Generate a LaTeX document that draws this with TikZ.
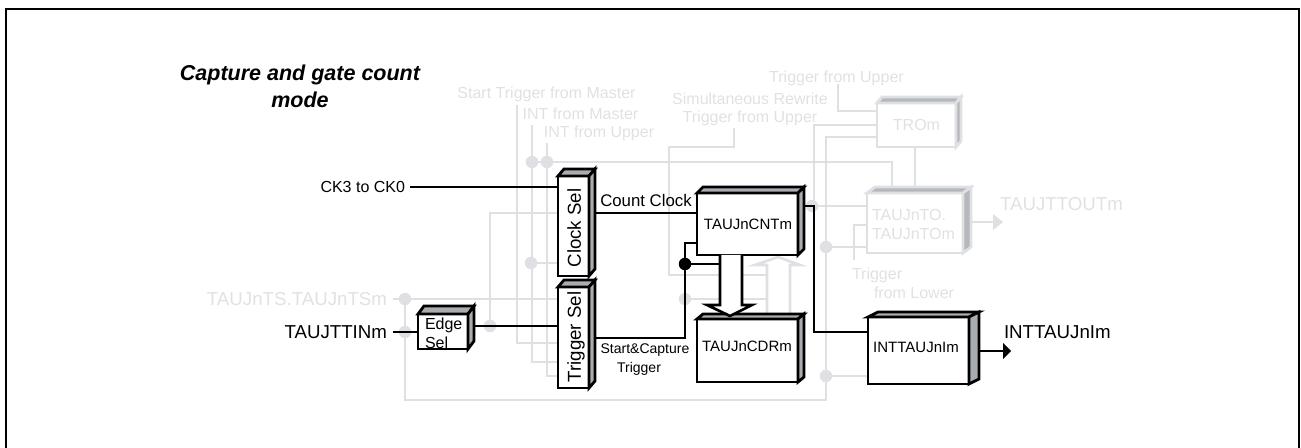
\documentclass[tikz,border=0pt]{standalone}
\usepackage{fontspec}
\setmainfont{Liberation Sans}
\usetikzlibrary{calc}
\definecolor{faint}{HTML}{DFE0E4}
\definecolor{fainttext}{HTML}{E0E1E5}
\definecolor{faceblack}{HTML}{A9ACB0}
\definecolor{facefaint}{HTML}{B4B7BB}
\newcommand{\px}[1]{\fontsize{\fpeval{#1*0.75}pt}{\fpeval{#1*0.9}pt}\selectfont}
% front face node: name, center x, center y, width, height, offset, style
\newcommand{\threed}[7]{%
  \node[#7,minimum width=#4*0.75pt,minimum height=#5*0.75pt] (#1) at (#2,#3) {};
  \path[#7,fill=#7face]
    (#1.north west) -- ++(#6) -- ($(#1.north east)+(#6)$) -- (#1.north east) -- cycle;
  \path[#7,fill=#7face]
    (#1.north east) -- ($(#1.north east)+(#6)$) -- ($(#1.south east)+(#6)$) -- (#1.south east) -- cycle;
}
\colorlet{darkboxface}{faceblack}
\colorlet{paleboxface}{facefaint}
\tikzset{
  darkbox/.style={draw=black,line width=2.1pt,fill=white,inner sep=0pt,outer sep=0pt,line join=miter},
  palebox/.style={draw=faint,line width=2.1pt,fill=white,inner sep=0pt,outer sep=0pt,line join=miter},
  wire/.style={draw=black,line width=2pt},
  pale/.style={draw=faint,line width=2pt},
  dot/.style={circle,fill=faint,draw=none,minimum size=12.5*0.75pt,inner sep=0pt,outer sep=0pt},
  blackdot/.style={circle,fill=black,draw=none,minimum size=12.5*0.75pt,inner sep=0pt,outer sep=0pt},
  lab/.style={inner sep=0pt,outer sep=0pt,text=black,text depth=0pt},
  plab/.style={inner sep=0pt,outer sep=0pt,text=fainttext,text depth=0pt},
}
\begin{document}
\begin{tikzpicture}[x=0.75pt,y=-0.75pt]
\useasboundingbox (0,0) rectangle (1301,448);
% frame
\coordinate (fa) at (6,448); \coordinate (fb) at (6,9); \coordinate (fc) at (1299,9); \coordinate (fd) at (1299,448);
\draw[black,line width=1.5pt] (fa) -- (fb) -- (fc) -- (fd);
% title
\node[lab,font=\px{21.5}\bfseries\itshape] (title1) at (300,73) {Capture and gate count};
\node[lab,font=\px{21.5}\bfseries\itshape] (title2) at (300,100) {mode};

% pale labels
\node[plab,font=\px{16}] (l1) at (546.5,93) {Start Trigger from Master};
\node[plab,font=\px{16}] (l2) at (580.5,114) {INT from Master};
\node[plab,font=\px{16}] (l3) at (599,132) {INT from Upper};
\node[plab,font=\px{16}] (l4) at (750,99) {Simultaneous Rewrite};
\node[plab,font=\px{16}] (l5) at (750,117) {Trigger from Upper};
\node[plab,font=\px{16}] (l6) at (836.5,77) {Trigger from Upper};
\node[plab,font=\px{18.7},anchor=east] (ts) at (387,299) {TAUJnTS.TAUJnTSm};
\node[plab,font=\px{18.7},anchor=west] (ttout) at (1000,204) {TAUJTTOUTm};
\node[plab,font=\px{16},anchor=west] (l7) at (852,274) {Trigger};
\node[plab,font=\px{16},anchor=west] (l8) at (874,293) {from Lower};

% pale junctions
\coordinate (a0) at (517,105);
\coordinate (b0) at (532,125);
\coordinate (c0) at (547,143);
\coordinate (s0) at (734,128);
\coordinate (s1) at (669,147);
\node[dot] (jb) at (532,162) {};
\node[dot] (jc) at (547,162) {};
\node[dot] (jd) at (490,326) {};
\node[dot] (je) at (531,263) {};
\node[dot] (jts) at (405,299) {};
\node[dot] (jin) at (405,332) {};
\node[dot] (jm) at (685,299) {};
\node[dot] (jcnt) at (812,206) {};
\node[dot] (jto) at (826,247) {};
\node[dot] (jint) at (826,376) {};
\coordinate (bl) at (405,400);
\coordinate (br) at (826,400);
\coordinate (st) at (854,225);
\coordinate (sb) at (854,260);
\coordinate (tsstart) at (393,299);
\coordinate (tu) at (838,84);

% pale boxes
\threed{tro}{916.5}{125}{79}{44}{5,-6}{palebox}
\threed{tot}{915}{223}{96}{60}{8,-6}{palebox}
\node[plab,font=\px{16}] at (tro.center) (trot) {TROm};
\node[plab,font=\px{16},anchor=west] (tot1) at (872,215) {TAUJnTO.};
\node[plab,font=\px{16},anchor=west] (tot2) at (872,234) {TAUJnTOm};

% pale wires
\draw[pale] (a0) |- (558,343);
\draw[pale] (b0) -- (jb) -- (jb |- 0,362) -- (558,362);
\draw[pale] (c0) -- (jc) -- (jc |- 0,376) -- (558,376);
\draw[pale] (jb) -- (jc) -- (892,162) -- (892,187);
\draw[pale] (558,213) -| (jd);
\draw[pale] (je) -- (558,263);
\draw[pale] (tsstart) -- (jts) -- (558,299);
\draw[pale] (jts) -- (jin) -- (bl) -- (br) -- (826,137) -- (tro.west |- 0,137);
\draw[pale] (jint) -- (868,376);
\draw[pale] (jto) -- (tot.west |- jto);
\draw[pale] (915,147) -- (915,187);
\draw[pale] (tro.west |- 0,125) -| (814,206);
\draw[pale] (804,206) -- (tot.west |- jcnt);
\draw[pale] (sb) -- (st) -- (tot.west |- st);
\draw[pale] (s0) |- (s1) -- (669,275) -- (767,275);
\draw[pale] (jm) -- (767,299);
\draw[pale] (tu) |- (tro.west |- 0,111);
% pale output arrow
\draw[pale] (971,222) -- (994,222);
\fill[faint] (993,214) -- (1003,222) -- (993,230) -- cycle;
% pale hollow arrow
\draw[pale,line join=miter] (767,314) -- (767,265) -- (755,265) -- (778,257) -- (800,265) -- (790,265) -- (790,314);

% dark labels
\node[lab,font=\px{16},anchor=east] (ck) at (405,187) {CK3 to CK0};
\node[lab,font=\px{18.7},anchor=east] (tin) at (387,332) {TAUJTTINm};
\node[lab,font=\px{16.8}] (cc) at (646,200) {Count Clock};
\node[lab,font=\px{14}] (sc1) at (645,349) {Start\&Capture};
\node[lab,font=\px{14}] (sc2) at (639,367) {Trigger};
\node[lab,font=\px{18.7},anchor=west] (out) at (1004,332) {INTTAUJnIm};

% dark boxes
\threed{clk}{573.5}{226}{31}{100}{6,-7}{darkbox}
\threed{trg}{573.5}{337.5}{31}{101}{6,-7}{darkbox}
\threed{edge}{443}{331.5}{50}{35}{6,-8}{darkbox}
\threed{cnt}{747.5}{224}{101}{62}{6,-6}{darkbox}
\threed{cdr}{747.5}{350.5}{101}{63}{6,-5}{darkbox}
\threed{int}{918.5}{350.5}{101}{67}{10,-5}{darkbox}
\node[lab,font=\px{18.7},rotate=90] (clkt) at (574,228) {Clock Sel};
\node[lab,font=\px{18.7},rotate=90] (trgt) at (574,337) {Trigger Sel};
\node[lab,font=\px{16},anchor=west] (et1) at (425,324) {Edge};
\node[lab,font=\px{16},anchor=west] (et2) at (425,343) {Sel};
\node[lab,font=\px{15}] (cntt) at (748,224) {TAUJnCNTm};
\node[lab,font=\px{15}] (cdrt) at (747,346) {TAUJnCDRm};
\node[lab,font=\px{15}] (intt) at (916,347) {INTTAUJnIm};

% dark wires
\coordinate (ckin) at (410,187);
\coordinate (tinin) at (393,332);
\coordinate (cntout) at (804,206);
\draw[wire] (ckin) -- (clk.west |- ckin);
\draw[wire] (595,213) -- (cnt.west |- 0,213);
\draw[wire] (tinin) -- (edge.west |- tinin);
\draw[wire] (474,326) -- (trg.west |- 0,326);
\node[blackdot] (jk) at (685,264) {};
\draw[wire] (595,338) -| (jk);
\draw[wire] (jk) |- (cnt.west |- 0,243);
\draw[wire] (jk) -- (720,264);
\draw[wire,line join=miter] (cntout) -| (814,332) -- (int.west |- 0,332);
% block arrow
\draw[wire,fill=white,line join=miter] (720,255) -- (720,305) -- (707,305) -- (730,316) -- (752,305) -- (742,305) -- (742,255);
% output arrow
\draw[wire] (979,351) -- (1004,351);
\fill[black] (1003,343) -- (1011,351) -- (1003,359) -- cycle;
\end{tikzpicture}
\end{document}
